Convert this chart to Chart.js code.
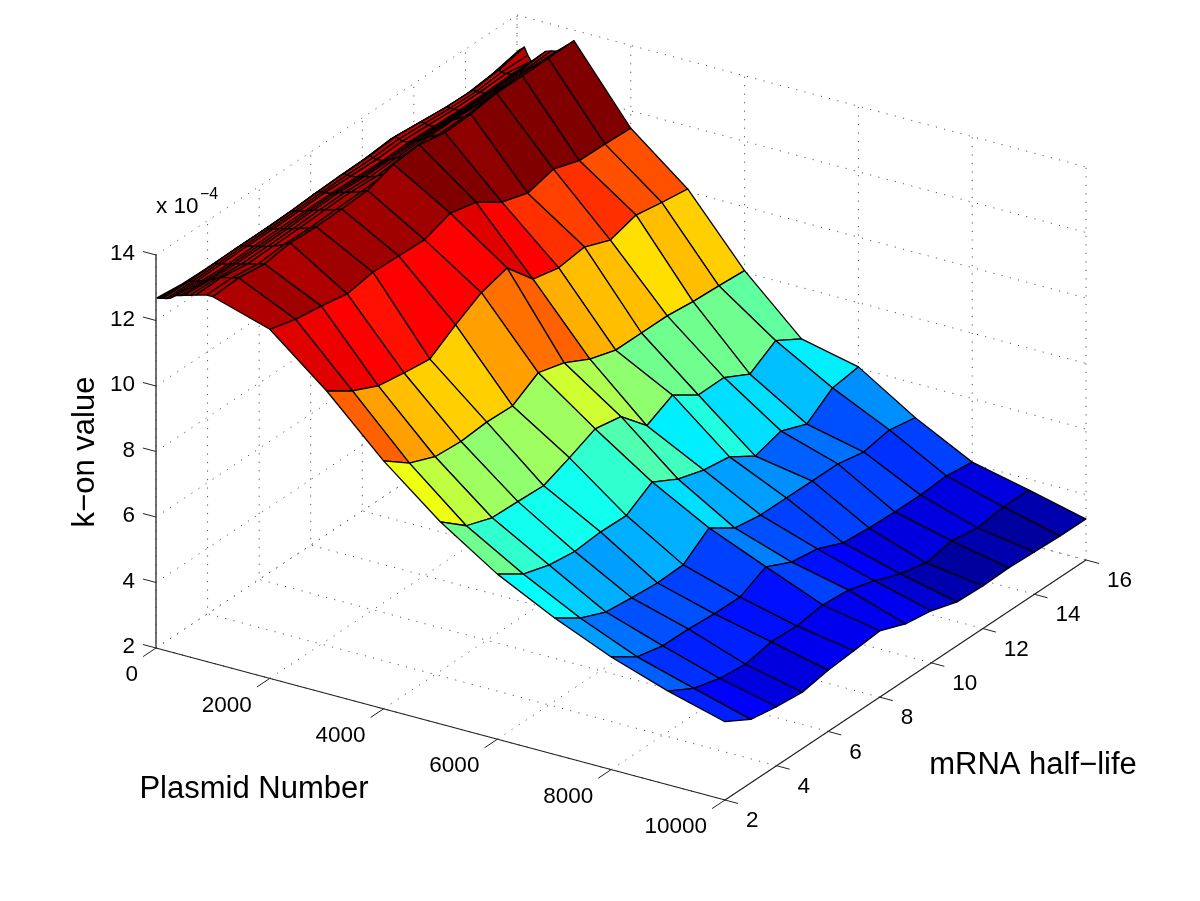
<!DOCTYPE html>
<html>
<head>
<meta charset="utf-8">
<title>k-on surface</title>
<style>
  body { margin: 0; background: #fff; }
  canvas { display: block; }
</style>
<script src="https://cdn.jsdelivr.net/npm/chart.js@4"></script>
</head>
<body>
<canvas id="chart" width="1200" height="901"></canvas>
<script>
// values, k-on in units of 1e-4
const plasmidNumber = [10, 50, 90, 130, 190, 250, 360, 430, 500, 600, 700, 890, 1000, 2000, 3000, 4000, 5000, 6000, 7000, 8000, 9000, 10000];
const halfLife = [2, 3, 4, 5, 6, 7, 8, 9, 10, 11, 12, 13, 14, 15, 16];
const konValues = [
  [12.69, 12.60, 12.58, 12.59, 12.59, 12.61, 12.66, 12.69, 12.71, 12.78, 12.71, 12.64, 12.62, 12.71, 12.89],
  [12.70, 12.63, 12.64, 12.66, 12.66, 12.68, 12.73, 12.76, 12.78, 12.85, 12.78, 12.71, 12.69, 12.78, 12.96],
  [12.72, 12.68, 12.70, 12.72, 12.72, 12.74, 12.79, 12.82, 12.84, 12.91, 12.84, 12.77, 12.75, 12.84, 13.02],
  [12.74, 12.74, 12.76, 12.78, 12.78, 12.80, 12.85, 12.88, 12.90, 12.97, 12.90, 12.83, 12.81, 12.90, 13.08],
  [12.76, 12.76, 12.78, 12.80, 12.80, 12.82, 12.86, 12.87, 12.87, 12.92, 12.87, 12.82, 12.80, 12.87, 12.86],
  [12.80, 12.78, 12.80, 12.82, 12.82, 12.84, 12.88, 12.86, 12.84, 12.88, 12.84, 12.80, 12.80, 12.84, 12.70],
  [12.93, 12.86, 12.84, 12.86, 12.88, 12.90, 12.90, 12.88, 12.86, 12.90, 12.86, 12.84, 12.84, 12.88, 12.85],
  [12.96, 12.90, 12.88, 12.89, 12.91, 12.94, 12.95, 12.92, 12.91, 12.95, 12.92, 12.90, 12.91, 12.95, 13.00],
  [13.00, 12.95, 12.92, 12.92, 12.94, 12.98, 13.00, 12.96, 12.96, 13.00, 12.98, 12.96, 12.98, 13.02, 13.12],
  [13.05, 13.03, 12.96, 12.97, 12.99, 13.03, 13.05, 13.01, 13.05, 13.10, 13.10, 13.07, 13.09, 13.13, 13.18],
  [13.10, 13.12, 13.00, 13.02, 13.04, 13.08, 13.10, 13.06, 13.14, 13.20, 13.22, 13.18, 13.20, 13.24, 13.22],
  [13.19, 13.20, 13.10, 13.16, 13.14, 13.18, 13.20, 13.26, 13.42, 13.38, 13.40, 13.45, 13.42, 13.44, 13.50],
  [13.19, 13.24, 13.14, 13.26, 13.23, 13.25, 13.29, 13.57, 13.64, 13.49, 13.53, 13.65, 13.65, 13.67, 13.68],
  [12.66, 12.44, 12.32, 12.17, 12.31, 12.28, 12.25, 12.54, 12.35, 11.83, 11.58, 11.79, 11.53, 11.51, 11.47],
  [11.24, 10.72, 10.35, 10.22, 10.12, 10.64, 11.10, 11.33, 10.47, 10.29, 10.40, 10.09, 10.33, 10.19, 10.08],
  [9.57, 8.98, 8.65, 8.59, 8.66, 8.63, 9.12, 8.90, 8.49, 8.24, 8.24, 8.24, 8.15, 8.11, 8.05],
  [8.17, 7.53, 7.25, 7.22, 7.18, 7.51, 7.87, 7.72, 6.92, 7.33, 6.81, 6.82, 6.40, 6.90, 6.43],
  [7.04, 6.52, 6.27, 6.16, 6.23, 6.21, 6.71, 6.28, 6.03, 5.91, 5.41, 5.65, 5.34, 5.92, 6.04],
  [6.17, 5.64, 5.30, 5.21, 5.14, 5.17, 5.77, 5.25, 5.12, 5.12, 5.11, 5.11, 4.95, 5.10, 4.95],
  [5.44, 4.92, 4.73, 4.72, 4.66, 4.65, 5.05, 4.67, 4.55, 4.21, 4.14, 4.11, 4.10, 4.16, 4.06],
  [4.86, 4.42, 4.20, 4.11, 4.27, 4.23, 4.35, 4.28, 4.04, 3.73, 3.54, 3.69, 3.56, 3.68, 3.67],
  [4.39, 3.94, 3.80, 3.72, 3.87, 3.94, 4.02, 3.71, 3.59, 3.34, 3.30, 3.33, 3.29, 3.26, 3.25]
];
const plasmidTicks = [0, 2000, 4000, 6000, 8000, 10000];
const halfLifeTicks = [2, 4, 6, 8, 10, 12, 14, 16];
const konTicks = [2, 4, 6, 8, 10, 12, 14];

// fixed view of the 3d box, orthographic like the original plot
function project(p, h, z) {
  return {
    x: 156 + p / 10000 * 569 + (h - 2) / 14 * 361,
    y: 648 + p / 10000 * 152 - (h - 2) / 14 * 240 - (z - 2) / 12 * 393
  };
}

function jet(z) {
  const all = konValues.flat();
  const lo = Math.min(...all), hi = Math.max(...all);
  const level = Math.min(63, Math.floor((z - lo) / (hi - lo) * 64));
  const t = (level + 1) / 64;
  const band = c => Math.round(255 * Math.max(0, Math.min(1, 1.5 - Math.abs(4 * t - c))));
  return `rgb(${band(3)},${band(2)},${band(1)})`;
}

function lineSet(points, color, width, dash) {
  return {
    data: points,
    showLine: true,
    fill: false,
    borderColor: color,
    borderWidth: width,
    borderDash: dash || [],
    borderJoinStyle: "round",
    pointRadius: 0,
    tension: 0
  };
}

const layers = [];
const dots = [1.2, 7.3];
const gridColor = "#555";
const pMax = plasmidTicks[plasmidTicks.length - 1];
const hMin = halfLifeTicks[0], hMax = halfLifeTicks[halfLifeTicks.length - 1];
const zMin = konTicks[0], zMax = konTicks[konTicks.length - 1];

// dotted grid on the floor and two back walls
plasmidTicks.forEach(p => {
  layers.push(lineSet([project(p, hMin, zMin), project(p, hMax, zMin), project(p, hMax, zMax)], gridColor, 1, dots));
});
halfLifeTicks.forEach(h => {
  layers.push(lineSet([project(pMax, h, zMin), project(0, h, zMin), project(0, h, zMax)], gridColor, 1, dots));
});
konTicks.forEach(z => {
  layers.push(lineSet([project(0, hMin, z), project(0, hMax, z), project(pMax, hMax, z)], gridColor, 1, dots));
});

// axis lines and tick marks
layers.push(lineSet([project(0, hMin, zMax), project(0, hMin, zMin)], "#444", 1.5));
layers.push(lineSet([project(0, hMin, zMin), project(pMax, hMin, zMin), project(pMax, hMax, zMin)], "#222", 1.2));
plasmidTicks.forEach(p => layers.push(lineSet([project(p, hMin, zMin), project(p, hMin - 0.5, zMin)], "#222", 1)));
halfLifeTicks.forEach(h => layers.push(lineSet([project(pMax, h, zMin), project(pMax + 230, h, zMin)], "#222", 1)));
konTicks.forEach(z => layers.push(lineSet([project(0, hMin, z), project(-230, hMin, z)], "#222", 1)));

// surface, back to front, each cell coloured by its low corner
for (let i = 0; i < plasmidNumber.length - 1; i++) {
  for (let j = halfLife.length - 2; j >= 0; j--) {
    const cell = [
      project(plasmidNumber[i], halfLife[j], konValues[i][j]),
      project(plasmidNumber[i + 1], halfLife[j], konValues[i + 1][j]),
      project(plasmidNumber[i + 1], halfLife[j + 1], konValues[i + 1][j + 1]),
      project(plasmidNumber[i], halfLife[j + 1], konValues[i][j + 1]),
      project(plasmidNumber[i], halfLife[j], konValues[i][j])
    ];
    const set = lineSet(cell, "#000", 1.3);
    set.fill = "shape";
    set.backgroundColor = jet(konValues[i][j]);
    layers.push(set);
  }
}

const textFont = '"Liberation Sans", Arial, sans-serif';

const labelPlugin = {
  id: "boxLabels",
  afterDraw(chart) {
    const ctx = chart.ctx;
    const sx = chart.scales.x, sy = chart.scales.y;
    const at = pt => ({ x: sx.getPixelForValue(pt.x), y: sy.getPixelForValue(pt.y) });
    ctx.save();
    ctx.fillStyle = "#000";
    ctx.textBaseline = "middle";
    ctx.font = "22.5px " + textFont;

    ctx.textAlign = "right";
    plasmidTicks.forEach(p => {
      const t = at(project(p, hMin, zMin));
      ctx.fillText(String(p), t.x - 18, t.y + 27);
    });
    konTicks.forEach(z => {
      const t = at(project(0, hMin, z));
      ctx.fillText(String(z), t.x - 21, t.y - 1);
    });
    ctx.textAlign = "left";
    halfLifeTicks.forEach(h => {
      const t = at(project(pMax, h, zMin));
      ctx.fillText(String(h), t.x + 21, t.y + 21);
    });

    // exponent above the k-on axis
    ctx.textBaseline = "alphabetic";
    ctx.fillText("x 10", 156, 213);
    ctx.font = "16px " + textFont;
    ctx.fillText("\u22124", 200, 199);

    // axis titles
    ctx.textAlign = "center";
    ctx.textBaseline = "middle";
    ctx.font = "31px " + textFont;
    ctx.fillText("Plasmid Number", 254, 789);
    ctx.fillText("mRNA half\u2212life", 1033, 765);
    ctx.translate(85, 452);
    ctx.rotate(-Math.PI / 2);
    ctx.fillText("k\u2212on value", 0, 0);
    ctx.restore();
  }
};

new Chart(document.getElementById("chart"), {
  type: "scatter",
  // chart.js paints the first dataset last, so flip the back-to-front list
  data: { datasets: layers.reverse() },
  options: {
    responsive: false,
    animation: false,
    events: [],
    layout: { padding: 0 },
    plugins: { legend: { display: false }, tooltip: { enabled: false } },
    scales: {
      x: { type: "linear", display: false, min: 0, max: 1200 },
      y: { type: "linear", display: false, min: 0, max: 901, reverse: true }
    }
  },
  plugins: [labelPlugin]
});
</script>
</body>
</html>
